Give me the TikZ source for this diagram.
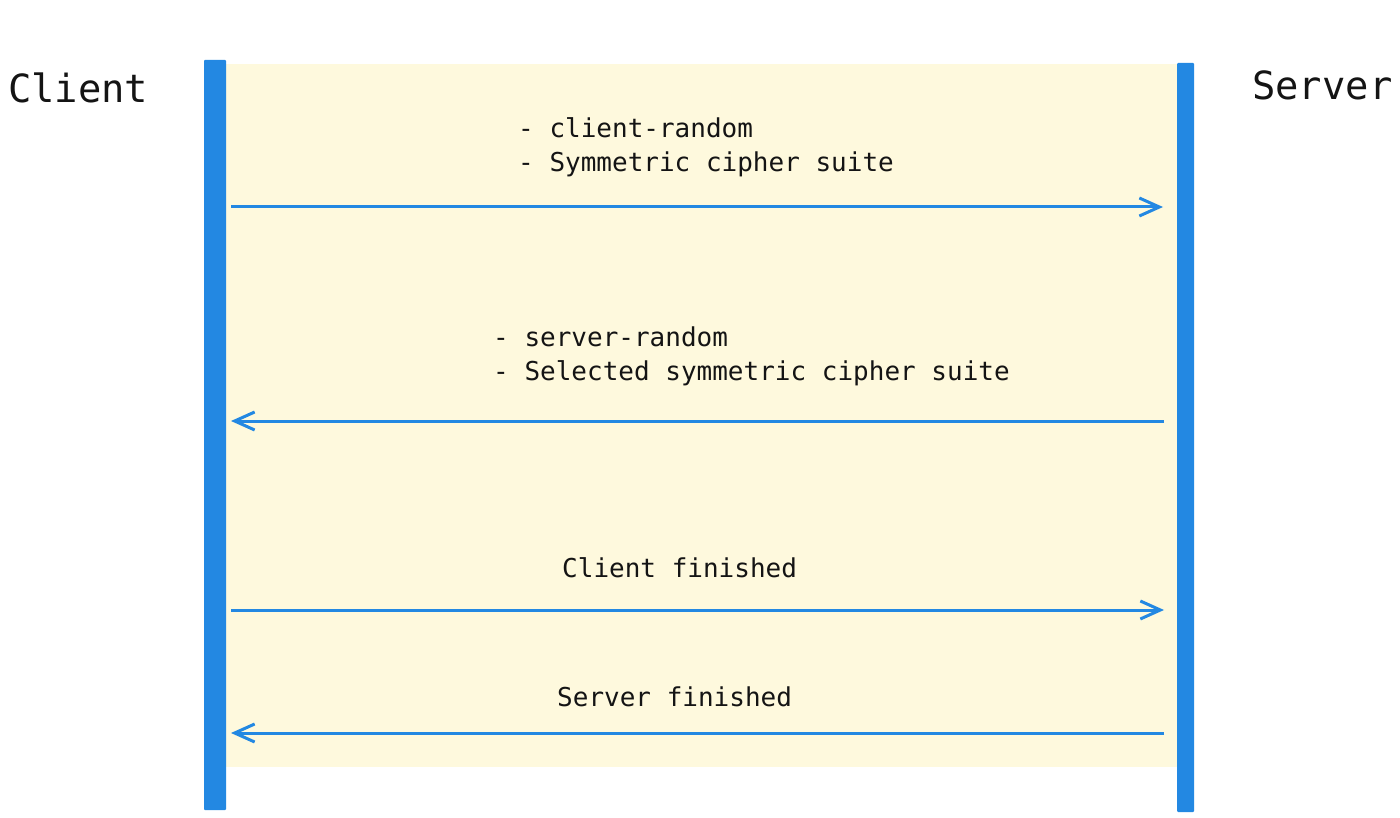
\documentclass[tikz,border=0pt]{standalone}
\usepackage{fontspec}
\setmonofont{DejaVu Sans Mono}
\usetikzlibrary{arrows.meta}
\definecolor{barblue}{HTML}{2388E2}
\definecolor{bgyellow}{HTML}{FEF9DD}
\begin{document}
\begin{tikzpicture}[x=1pt,y=-1pt,
  actor/.style={anchor=base west,inner sep=0pt,font=\fontsize{38.8}{44}\selectfont\ttfamily,text=black!92},
  msg/.style={anchor=base west,inner sep=0pt,align=left,font=\fontsize{26}{34}\selectfont\ttfamily,text=black!92},
  bar/.style={fill=barblue,draw=none,rounded corners=1pt},
  msgarrow/.style={draw=barblue,line width=3pt,-{Straight Barb[length=20pt,width=18pt]}}
]
\useasboundingbox (0,0) rectangle (1400,818);
\fill[white] (0,0) rectangle (1400,818);
\fill[bgyellow] (226,64) rectangle (1177,767);
\path[bar] (204,60) rectangle (226,810);
\path[bar] (1177,63) rectangle (1194,812);
\node[actor] (client) at (8,103) {Client};
\node[actor] (server) at (1252,100) {Server};

\coordinate (c1) at (231,207); \coordinate (s1) at (1163,207);
\coordinate (c2) at (231,421); \coordinate (s2) at (1164,421);
\coordinate (c3) at (231,610); \coordinate (s3) at (1164,610);
\coordinate (c4) at (231,733); \coordinate (s4) at (1164,733);

\node[msg] (m1) at (518,172) {- client-random\\- Symmetric cipher suite};
\node[msg] (m2) at (493,380) {- server-random\\- Selected symmetric cipher suite};
\node[msg] (m3) at (562,577) {Client finished};
\node[msg] (m4) at (557,706) {Server finished};

\draw[msgarrow] (c1) -- (s1);
\draw[msgarrow] (s2) -- (c2);
\draw[msgarrow] (c3) -- (s3);
\draw[msgarrow] (s4) -- (c4);
\end{tikzpicture}
\end{document}
